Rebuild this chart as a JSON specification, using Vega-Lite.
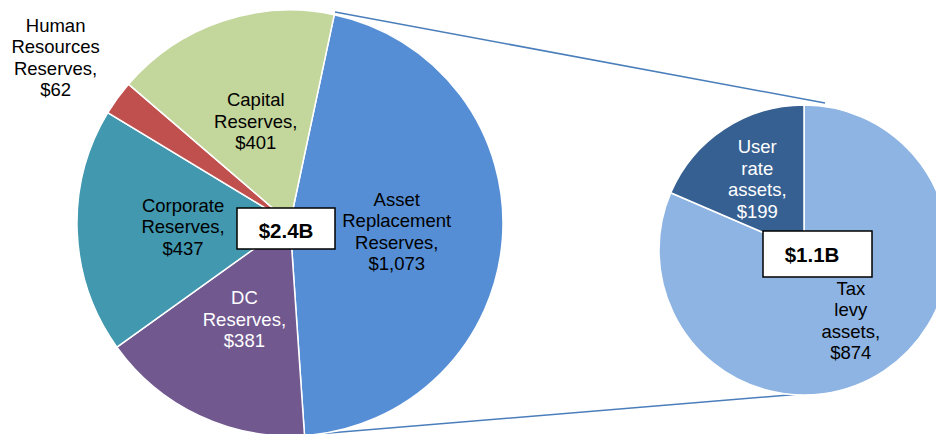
{
  "$schema": "https://vega.github.io/schema/vega-lite/v6.json",
  "width": 936,
  "height": 434,
  "autosize": {"type": "none"},
  "padding": 0,
  "background": "white",
  "config": {"view": {"stroke": null}, "text": {"font": "Liberation Sans"}},
  "datasets": {
    "slices": [
      {"pie": "Total", "category": "Asset Replacement Reserves", "label": "Asset\nReplacement\nReserves,", "value": 1073},
      {"pie": "Total", "category": "DC Reserves", "label": "DC\nReserves,", "value": 381},
      {"pie": "Total", "category": "Corporate Reserves", "label": "Corporate\nReserves,", "value": 437},
      {"pie": "Total", "category": "Human Resources Reserves", "label": "Human\nResources\nReserves,", "value": 62},
      {"pie": "Total", "category": "Capital Reserves", "label": "Capital\nReserves,", "value": 401},
      {"pie": "Asset", "category": "Tax levy assets", "label": "Tax\nlevy\nassets,", "value": 874},
      {"pie": "Asset", "category": "User rate assets", "label": "User\nrate\nassets,", "value": 199}
    ]
  },
  "data": {"name": "slices"},
  "transform": [
    {"window": [{"op": "row_number", "as": "idx"}]},
    {"calculate": "datum.label + '\\n$' + format(datum.value, ',')", "as": "txt"}
  ],
  "layer": [
    {
      "transform": [{"filter": "datum.category === 'Asset Replacement Reserves'"}],
      "mark": {"type": "point", "shape": "M45,-211L535,-120M15,212L535,169", "size": 4, "filled": false, "stroke": "#4A7EBB", "strokeWidth": 1.5, "opacity": 1},
      "encoding": {
        "x": {"field": "pie", "type": "nominal", "scale": {"type": "point", "domain": ["Total", "Asset"], "range": [290, 804], "padding": 0}, "axis": null},
        "y": {"field": "pie", "type": "nominal", "scale": {"type": "point", "domain": ["Total", "Asset"], "range": [223, 250], "padding": 0}, "axis": null}
      }
    },
    {
      "transform": [{"filter": "datum.pie === 'Total'"}],
      "mark": {"type": "arc", "radius": 213, "stroke": "white", "strokeWidth": 1.5},
      "encoding": {
        "x": {"field": "pie", "type": "nominal", "axis": null},
        "y": {"field": "pie", "type": "nominal", "axis": null},
        "theta": {"field": "value", "type": "quantitative", "stack": true, "scale": {"range": [0.2094, 6.4926]}},
        "order": {"field": "idx", "type": "quantitative"},
        "color": {
          "field": "category", "type": "nominal", "legend": null,
          "scale": {
            "domain": ["Asset Replacement Reserves", "DC Reserves", "Corporate Reserves", "Human Resources Reserves", "Capital Reserves", "Tax levy assets", "User rate assets"],
            "range": ["#558ED5", "#71588F", "#4198AF", "#C0504D", "#C3D69B", "#8EB4E3", "#376092"]
          }
        }
      }
    },
    {
      "transform": [{"filter": "datum.pie === 'Asset'"}],
      "mark": {"type": "arc", "radius": 145, "stroke": "white", "strokeWidth": 1.5},
      "encoding": {
        "x": {"field": "pie", "type": "nominal", "axis": null},
        "y": {"field": "pie", "type": "nominal", "axis": null},
        "theta": {"field": "value", "type": "quantitative", "stack": true},
        "order": {"field": "idx", "type": "quantitative"},
        "color": {"field": "category", "type": "nominal", "legend": null}
      }
    },
    {
      "transform": [{"filter": "datum.pie === 'Total'"}],
      "mark": {"type": "text", "radius": 107, "fontSize": 18.5, "lineHeight": 21.5, "lineBreak": "\n", "align": "center", "baseline": "middle", "dy": -21.5},
      "encoding": {
        "x": {"field": "pie", "type": "nominal", "axis": null},
        "y": {"field": "pie", "type": "nominal", "axis": null},
        "theta": {"field": "value", "type": "quantitative", "stack": true, "scale": {"range": [0.2094, 6.4926]}},
        "order": {"field": "idx", "type": "quantitative"},
        "text": {"condition": {"test": "datum.category === 'Human Resources Reserves' || datum.category === 'Asset Replacement Reserves'", "value": ""}, "field": "txt"},
        "color": {"condition": {"test": "datum.category === 'DC Reserves'", "value": "#FFFFFF"}, "value": "#000000"}
      }
    },
    {
      "transform": [{"filter": "datum.pie === 'Total'"}],
      "mark": {"type": "text", "radius": 107, "fontSize": 18.5, "lineHeight": 21.5, "lineBreak": "\n", "align": "center", "baseline": "middle", "dy": -31, "color": "#000000"},
      "encoding": {
        "x": {"field": "pie", "type": "nominal", "axis": null},
        "y": {"field": "pie", "type": "nominal", "axis": null},
        "theta": {"field": "value", "type": "quantitative", "stack": true, "scale": {"range": [0.2094, 6.4926]}},
        "order": {"field": "idx", "type": "quantitative"},
        "text": {"condition": {"test": "datum.category !== 'Asset Replacement Reserves'", "value": ""}, "field": "txt"}
      }
    },
    {
      "transform": [{"filter": "datum.pie === 'Total'"}],
      "mark": {"type": "text", "radius": 287, "fontSize": 18.5, "lineHeight": 21.5, "lineBreak": "\n", "align": "center", "baseline": "middle", "dy": -29, "dx": -2, "color": "#000000"},
      "encoding": {
        "x": {"field": "pie", "type": "nominal", "axis": null},
        "y": {"field": "pie", "type": "nominal", "axis": null},
        "theta": {"field": "value", "type": "quantitative", "stack": true, "scale": {"range": [0.2094, 6.4926]}},
        "order": {"field": "idx", "type": "quantitative"},
        "text": {"condition": {"test": "datum.category !== 'Human Resources Reserves'", "value": ""}, "field": "txt"}
      }
    },
    {
      "transform": [{"filter": "datum.pie === 'Asset'"}],
      "mark": {"type": "text", "radius": 85, "fontSize": 18.5, "lineHeight": 21.5, "lineBreak": "\n", "align": "center", "baseline": "middle", "dy": -32},
      "encoding": {
        "x": {"field": "pie", "type": "nominal", "axis": null},
        "y": {"field": "pie", "type": "nominal", "axis": null},
        "theta": {"field": "value", "type": "quantitative", "stack": true},
        "order": {"field": "idx", "type": "quantitative"},
        "text": {"field": "txt"},
        "color": {"condition": {"test": "datum.category === 'User rate assets'", "value": "#FFFFFF"}, "value": "#000000"}
      }
    },
    {
      "transform": [
        {"filter": "datum.pie === 'Total'"},
        {"aggregate": [{"op": "sum", "field": "value", "as": "total"}], "groupby": ["pie"]}
      ],
      "mark": {"type": "point", "shape": "M-53,-15L45,-15L45,26L-53,26Z", "size": 4, "filled": true, "fill": "#FFFFFF", "stroke": "#000000", "strokeWidth": 1.5, "opacity": 1},
      "encoding": {
        "x": {"field": "pie", "type": "nominal", "axis": null},
        "y": {"field": "pie", "type": "nominal", "axis": null}
      }
    },
    {
      "transform": [
        {"filter": "datum.pie === 'Asset'"},
        {"aggregate": [{"op": "sum", "field": "value", "as": "total"}], "groupby": ["pie"]}
      ],
      "mark": {"type": "point", "shape": "M-41,-19L68,-19L68,27L-41,27Z", "size": 4, "filled": true, "fill": "#FFFFFF", "stroke": "#000000", "strokeWidth": 1.5, "opacity": 1},
      "encoding": {
        "x": {"field": "pie", "type": "nominal", "axis": null},
        "y": {"field": "pie", "type": "nominal", "axis": null}
      }
    },
    {
      "transform": [
        {"filter": "datum.pie === 'Total'"},
        {"aggregate": [{"op": "sum", "field": "value", "as": "total"}], "groupby": ["pie"]},
        {"calculate": "'$' + format(datum.total / 1000, '.1f') + 'B'", "as": "totalLabel"}
      ],
      "mark": {"type": "text", "fontSize": 20.5, "fontWeight": "bold", "color": "#000000", "dx": -4, "dy": 9, "align": "center", "baseline": "middle"},
      "encoding": {
        "x": {"field": "pie", "type": "nominal", "axis": null},
        "y": {"field": "pie", "type": "nominal", "axis": null},
        "text": {"field": "totalLabel"}
      }
    },
    {
      "transform": [
        {"filter": "datum.pie === 'Asset'"},
        {"aggregate": [{"op": "sum", "field": "value", "as": "total"}], "groupby": ["pie"]},
        {"calculate": "'$' + format(datum.total / 1000, '.1f') + 'B'", "as": "totalLabel"}
      ],
      "mark": {"type": "text", "fontSize": 20.5, "fontWeight": "bold", "color": "#000000", "dx": 8, "dy": 6, "align": "center", "baseline": "middle"},
      "encoding": {
        "x": {"field": "pie", "type": "nominal", "axis": null},
        "y": {"field": "pie", "type": "nominal", "axis": null},
        "text": {"field": "totalLabel"}
      }
    }
  ],
  "resolve": {"scale": {"theta": "independent"}}
}
